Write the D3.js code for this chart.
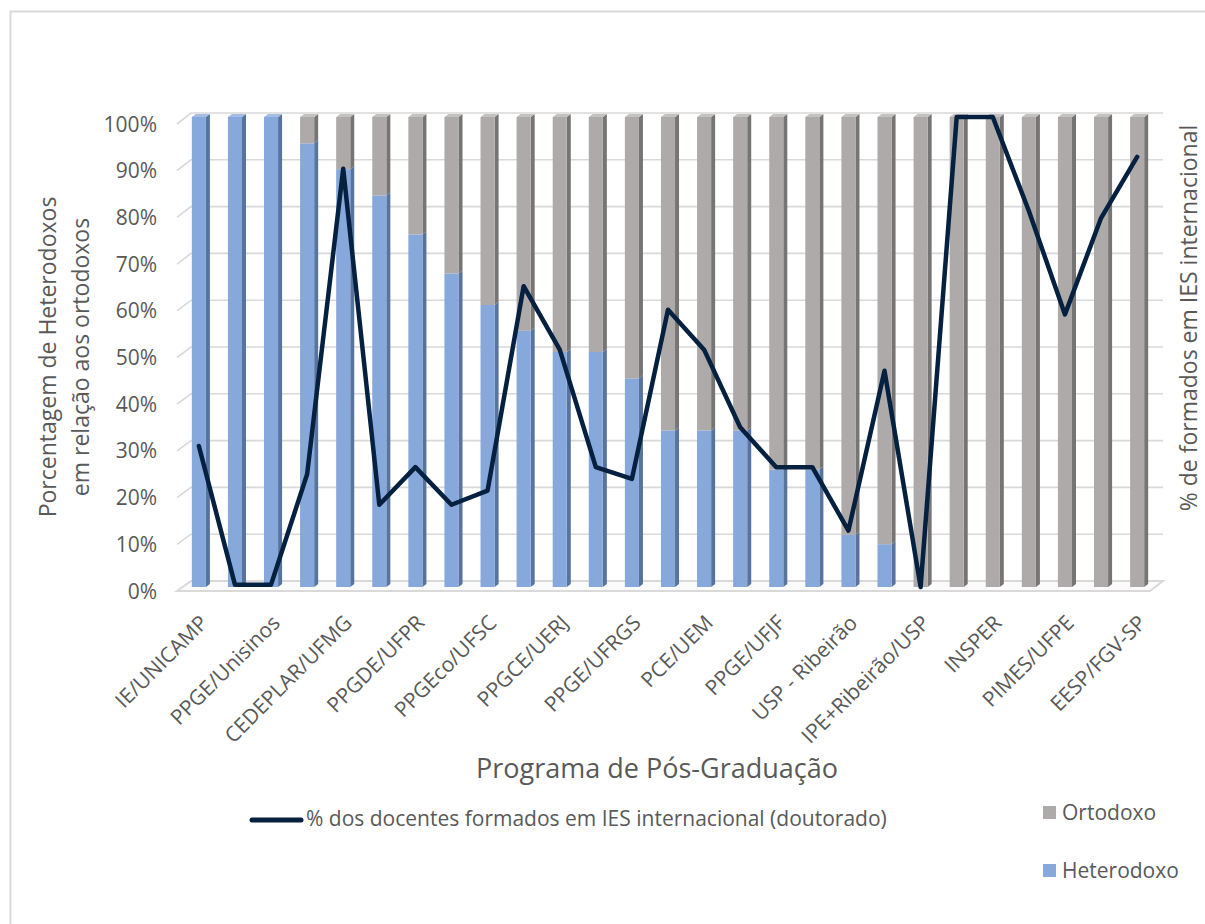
<!DOCTYPE html>
<html>
<head>
<meta charset="utf-8">
<script src="https://cdn.jsdelivr.net/npm/d3@7/dist/d3.min.js"></script>
<style>
  html, body { margin: 0; padding: 0; background: #fff; }
  svg { display: block; }
  text { font-family: "Open Sans", sans-serif; fill: #595959; }
</style>
</head>
<body>
<svg id="chart" width="1205" height="924"></svg>
<script>
// ---- data ----
const categories = [
  "IE/UNICAMP", "", "PPGE/Unisinos", "", "CEDEPLAR/UFMG", "", "PPGDE/UFPR", "",
  "PPGEco/UFSC", "", "PPGCE/UERJ", "", "PPGE/UFRGS", "", "PCE/UEM", "",
  "PPGE/UFJF", "", "USP - Ribeirão", "", "IPE+Ribeirão/USP", "", "INSPER", "",
  "PIMES/UFPE", "", "EESP/FGV-SP"
];
const heterodoxo = [100, 100, 100, 94.4, 88.9, 83.3, 75, 66.7, 60, 54.5, 50, 50, 44.4,
  33.3, 33.3, 33.3, 25, 25, 11.1, 9.1, 0, 0, 0, 0, 0, 0, 0];
const ortodoxo = heterodoxo.map(h => 100 - h);
const internacional = [30, 0.5, 0.5, 24, 89, 17.5, 25.5, 17.5, 20.5, 64, 50.5, 25.5, 23,
  59, 50.5, 34, 25.5, 25.5, 12, 46, 0, 100, 100, 80, 58, 78.5, 91.5];
const yTicks = [0, 10, 20, 30, 40, 50, 60, 70, 80, 90, 100];
const legendLine = "% dos docentes formados em IES internacional (doutorado)";
const legendBars = ["Ortodoxo", "Heterodoxo"];

// ---- layout ----
const svg = d3.select("#chart");
const backL = 191, backR = 1163, frontL = 177, frontR = 1150;

const x = d3.scaleBand().domain(d3.range(categories.length)).range([181, 1155]).paddingInner(0.61).paddingOuter(0.3);
const yBar = d3.scaleLinear().domain([0, 100]).range([587, 117]);
const yBack = d3.scaleLinear().domain([0, 100]).range([581, 113]);
const yFront = d3.scaleLinear().domain([0, 100]).range([591, 124]);

// chart border
svg.append("path").attr("d", "M10.5,924 L10.5,11.5 L1205,11.5")
  .attr("fill", "none").attr("stroke", "#d9d9d9").attr("stroke-width", 2);

// gridlines (back wall + side wall)
const grid = svg.append("g");
yTicks.filter(t => t > 0).forEach(t => {
  grid.append("path")
    .attr("d", `M${frontL},${yFront(t)} L${backL},${yBack(t)} L${backR},${yBack(t)}`)
    .attr("fill", "none").attr("stroke", "#d9d9d9").attr("stroke-width", 1.6);
});
// floor
grid.append("path")
  .attr("d", `M${frontL},${yFront(0)} L${backL},${yBack(0)} L${backR},${yBack(0)} L${frontR},${yFront(0)} Z`)
  .attr("fill", "#fbfbfb").attr("stroke", "#d9d9d9").attr("stroke-width", 2);

// left axis labels
svg.append("g").selectAll("text").data(yTicks).join("text")
  .attr("x", 157).attr("y", d => yFront(d)).attr("dy", "0.36em")
  .attr("text-anchor", "end").style("font-size", "21px")
  .text(d => d + "%");

// bars (pseudo 3D)
const bw = x.bandwidth(), dx = 4, dy = 3;
const colors = {
  h: { front: "#87a8db", side: "#58739d", top: "#a3bde5" },
  o: { front: "#aeaaaa", side: "#777474", top: "#c4c1c1" }
};
const bars = svg.append("g");
categories.forEach((c, i) => {
  const x0 = x(i);
  const segs = [
    { k: "h", v0: 0, v1: heterodoxo[i] },
    { k: "o", v0: heterodoxo[i], v1: heterodoxo[i] + ortodoxo[i] }
  ].filter(s => s.v1 - s.v0 > 0);
  segs.forEach((s, j) => {
    const yt = yBar(s.v1), yb = yBar(s.v0);
    const col = colors[s.k];
    bars.append("path")
      .attr("d", `M${x0 + bw},${yb} L${x0 + bw + dx},${yb - dy} L${x0 + bw + dx},${yt - dy} L${x0 + bw},${yt} Z`)
      .attr("fill", col.side);
    bars.append("rect").attr("x", x0).attr("y", yt).attr("width", bw).attr("height", yb - yt)
      .attr("fill", col.front);
    if (j === segs.length - 1) {
      bars.append("path")
        .attr("d", `M${x0},${yt} L${x0 + dx},${yt - dy} L${x0 + bw + dx},${yt - dy} L${x0 + bw},${yt} Z`)
        .attr("fill", col.top);
    }
  });
});

// line
const cx = i => x(i) + bw / 2;
svg.append("path").datum(internacional)
  .attr("d", d3.line().x((d, i) => cx(i)).y(d => yBar(d)))
  .attr("fill", "none").attr("stroke", "#06203f").attr("stroke-width", 4.5)
  .attr("stroke-linejoin", "round").attr("stroke-linecap", "round");

// x labels
svg.append("g").selectAll("text").data(categories.map((c, i) => ({ c, i })).filter(d => d.c))
  .join("text")
  .attr("transform", d => `translate(${cx(d.i) + 5},${619}) rotate(-45)`)
  .attr("text-anchor", "end").attr("dy", "0.35em")
  .style("font-size", "21px")
  .text(d => d.c);

// axis titles
svg.append("text").attr("transform", "translate(56,357) rotate(-90)")
  .attr("text-anchor", "middle").style("font-size", "23px").text("Porcentagem de Heterodoxos");
svg.append("text").attr("transform", "translate(89,357) rotate(-90)")
  .attr("text-anchor", "middle").style("font-size", "23px").text("em relação aos ortodoxos");
svg.append("text").attr("transform", "translate(1197,318) rotate(-90)")
  .attr("text-anchor", "middle").style("font-size", "23px").text("% de formados em IES internacional");
svg.append("text").attr("x", 657).attr("y", 778)
  .attr("text-anchor", "middle").style("font-size", "27px").text("Programa de Pós-Graduação");

// legend
svg.append("line").attr("x1", 252).attr("x2", 301).attr("y1", 820).attr("y2", 820)
  .attr("stroke", "#06203f").attr("stroke-width", 5).attr("stroke-linecap", "round");
svg.append("text").attr("x", 306).attr("y", 819).attr("dy", "0.35em")
  .style("font-size", "21px").text(legendLine);
const lg = svg.append("g");
legendBars.forEach((name, i) => {
  const yy = 813 + i * 58;
  lg.append("rect").attr("x", 1043).attr("y", yy - 7).attr("width", 13).attr("height", 13)
    .attr("fill", i === 0 ? colors.o.front : colors.h.front);
  lg.append("text").attr("x", 1062).attr("y", yy).attr("dy", "0.35em")
    .style("font-size", "21px").text(name);
});
</script>
</body>
</html>
